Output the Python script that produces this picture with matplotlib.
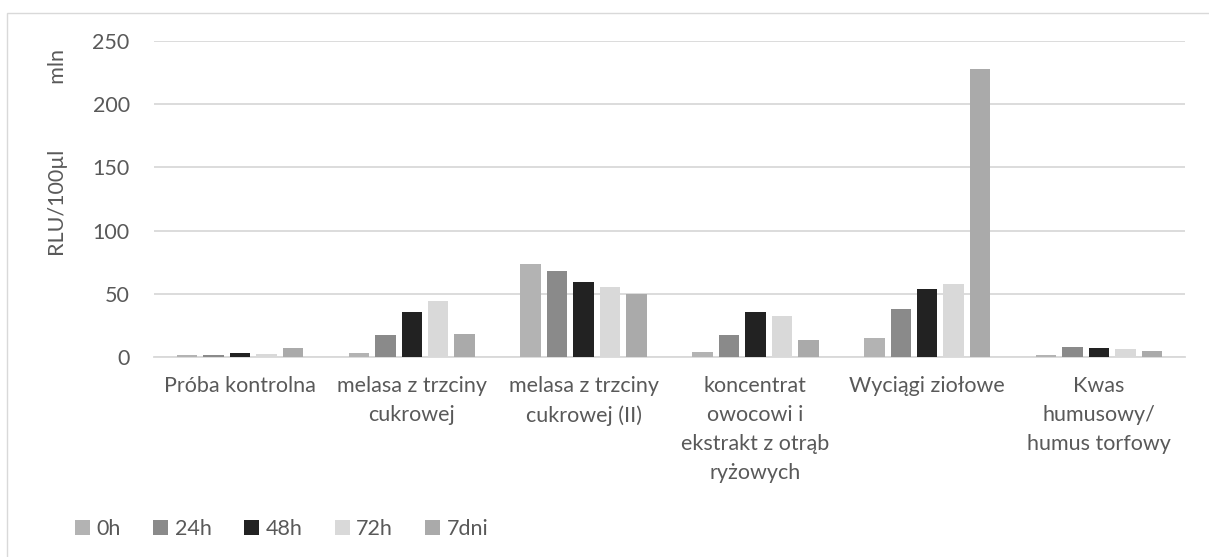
import numpy as np
import matplotlib.pyplot as plt
from matplotlib.patches import Rectangle

plt.rcParams['font.family'] = ['Lato', 'DejaVu Sans']

kategorie = ['Próba kontrolna', 'melasa z trzciny\ncukrowej', 'melasa z trzciny\ncukrowej (II)',
             'koncentrat\nowocowi i\nekstrakt z otrąb\nryżowych', 'Wyciągi ziołowe',
             'Kwas\nhumusowy/\nhumus torfowy']
serie = ['0h', '24h', '48h', '72h', '7dni']

# wartości RLU/100µl [mln]
h0 = [1.5, 3.0, 73.5, 3.7, 15.3, 1.8]
h24 = [1.5, 17.6, 67.8, 17.2, 38.0, 7.9]
h48 = [3.0, 35.6, 59.0, 35.3, 53.5, 7.1]
h72 = [2.0, 44.0, 55.0, 32.7, 58.0, 6.6]
d7 = [7.5, 18.2, 50.0, 13.2, 227.8, 5.0]

kolory = ['#b3b3b3', '#8a8a8a', '#222222', '#d9d9d9', '#aaaaaa']
tekst = '#595959'
siatka = '#d9d9d9'
fs = 15.5

fig = plt.figure(figsize=(12.09, 5.57), dpi=100)
fig.patches.append(Rectangle((7 / 1209, -0.1), 1.2, 1 - 13 / 557 + 0.1, transform=fig.transFigure,
                             fill=False, edgecolor=siatka, linewidth=1.0))
ax = fig.add_axes([154 / 1209, 200 / 557, 1031 / 1209, 316 / 557])

x = np.arange(len(kategorie))
odstep = 0.154
szer = 0.119
for i, (wart, nazwa) in enumerate(zip([h0, h24, h48, h72, d7], serie)):
    ax.bar(x + (i - 2) * odstep, wart, szer, color=kolory[i], label=nazwa, zorder=3)

ax.set_xlim(-0.5, len(kategorie) - 0.5)
ax.set_ylim(0, 250)
ax.set_yticks(np.arange(0, 251, 50))
ax.grid(axis='y', color=siatka, linewidth=1.3, zorder=0)
for s in ['top', 'right', 'left']:
    ax.spines[s].set_visible(False)
ax.spines['bottom'].set_color(siatka)
ax.spines['bottom'].set_linewidth(1.3)
ax.tick_params(axis='both', length=0, labelsize=fs, labelcolor=tekst)
ax.tick_params(axis='y', pad=17.5)
ax.tick_params(axis='x', pad=14)
ax.set_xticks(x)
ax.set_xticklabels(kategorie, linespacing=1.55, va='top')

fig.text(58 / 1209, 1 - 152 / 557, 'RLU/100µl            mln', rotation=90,
         ha='center', va='center', fontsize=fs, color=tekst)

fig.legend(loc='center left', bbox_to_anchor=(75 / 1209, 1 - 529 / 557), ncol=5, frameon=False,
           fontsize=fs, labelcolor=tekst, handlelength=0.7, handleheight=0.7,
           handletextpad=0.3, columnspacing=1.5, borderaxespad=0, borderpad=0)

fig.savefig('out.png', dpi=100)
